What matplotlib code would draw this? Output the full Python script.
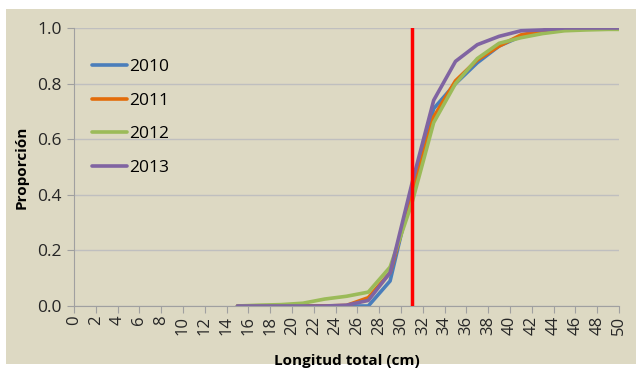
import numpy as np
import matplotlib.pyplot as plt
from matplotlib.patches import Rectangle

longitud = [15, 17, 19, 21, 23, 25, 27, 29, 31, 33, 35, 37, 39, 41, 43, 45, 47, 49, 50]
p2010 = [0, 0, 0, 0, 0, 0, 0.0, 0.09, 0.42, 0.71, 0.80, 0.875, 0.935, 0.97, 0.985, 0.995, 1.0, 1.0, 1.0]
p2011 = [0, 0, 0, 0, 0, 0.002, 0.03, 0.12, 0.40, 0.68, 0.81, 0.885, 0.935, 0.975, 0.99, 0.995, 1.0, 1.0, 1.0]
p2012 = [0, 0.003, 0.005, 0.01, 0.025, 0.035, 0.05, 0.14, 0.37, 0.66, 0.80, 0.89, 0.945, 0.965, 0.98, 0.99, 0.993, 0.995, 0.995]
p2013 = [0, 0, 0, 0, 0, 0.003, 0.02, 0.12, 0.44, 0.74, 0.88, 0.94, 0.97, 0.99, 0.993, 1.0, 1.0, 1.0, 1.0]
series = [('2010', p2010, '#4A7EBB'), ('2011', p2011, '#E36C0A'),
          ('2012', p2012, '#9BBB59'), ('2013', p2013, '#8064A2')]
talla_corte = 31

plt.rcParams['font.family'] = ['Open Sans', 'DejaVu Sans']
bg = '#DDD9C3'

fig = plt.figure(figsize=(6.36, 3.71), dpi=100, facecolor='white')
fig.patches.append(Rectangle((6/636, 7/371), 1, 355/371,
                             transform=fig.transFigure, facecolor=bg,
                             edgecolor='none', zorder=-10))
ax = fig.add_axes([74/636, 1 - 306/371, 545/636, 278/371])
ax.set_facecolor(bg)

for name, vals, col in series:
    ax.plot(longitud, vals, color=col, lw=2.6, label=name, solid_capstyle='round')
ax.axvline(talla_corte, color='#FF0000', lw=2.5, zorder=5)

ax.set_xlim(0, 50)
ax.set_ylim(0, 1.0)
ax.set_xticks(np.arange(0, 51, 2))
ax.set_xticklabels([str(v) for v in range(0, 51, 2)], rotation=90, fontsize=12)
ax.set_yticks(np.arange(0, 1.01, 0.2))
ax.set_yticklabels(['%.1f' % v for v in np.arange(0, 1.01, 0.2)], fontsize=12.5)
ax.grid(axis='y', color='#BFBFBF', lw=1)
ax.set_axisbelow(True)
for s in ['top', 'right']:
    ax.spines[s].set_visible(False)
for s in ['left', 'bottom']:
    ax.spines[s].set_color('#A0A0A0')
ax.tick_params(axis='both', color='#A0A0A0', length=5, labelcolor='#262626')
ax.tick_params(axis='x', pad=2)
ax.tick_params(axis='y', pad=4)

ax.set_xlabel('Longitud total (cm)', fontsize=11, fontweight='bold', labelpad=14)
ax.set_ylabel('Proporción', fontsize=11, fontweight='bold', labelpad=6)

ax.legend(loc='upper left', bbox_to_anchor=(0.033, 0.89), frameon=False,
          fontsize=12.5, handlelength=2.0, handletextpad=0.15, labelspacing=1.02,
          borderpad=0, borderaxespad=0)

fig.savefig('out.png', dpi=100)
